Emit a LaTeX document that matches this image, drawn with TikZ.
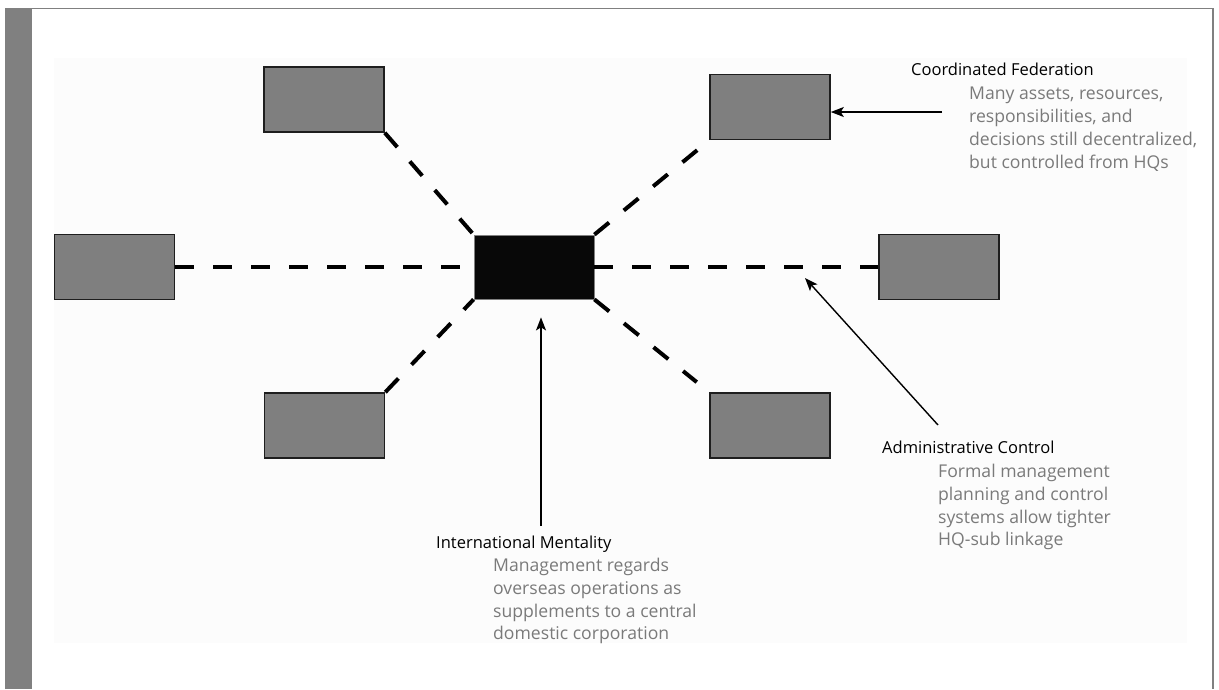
\documentclass[tikz,border=0pt]{standalone}
\usepackage{fontspec}
\setmainfont{Open Sans}
\usetikzlibrary{arrows.meta}
\definecolor{framegray}{HTML}{808080}
\definecolor{panelgray}{HTML}{FCFCFC}
\definecolor{subfill}{HTML}{7F7F7F}
\definecolor{hqfill}{HTML}{080808}
\definecolor{notegray}{HTML}{7A7A7A}
\definecolor{edgeblack}{HTML}{1E1E1E}
\tikzset{
  subbox/.style={draw=edgeblack, line width=1.6pt, fill=subfill,
    minimum width=120pt, minimum height=65pt, inner sep=0pt},
  hqbox/.style={draw=framegray, line width=0.8pt, fill=hqfill,
    minimum width=120pt, minimum height=64pt, inner sep=0pt},
  link/.style={line width=4pt, dash pattern=on 19pt off 19pt},
  pointer/.style={line width=1.4pt, -{Stealth[length=13pt, width=10pt, inset=3pt]}},
  headline/.style={anchor=north west, inner sep=0pt, text=black,
    font=\fontsize{16.5}{22.5}\selectfont},
  notes/.style={anchor=north west, inner sep=0pt, text=notegray, align=left,
    font=\fontsize{17.6}{22.8}\selectfont}
}
\begin{document}
\begin{tikzpicture}[x=1pt, y=-1pt]
  \useasboundingbox (0,0) rectangle (1219,689);
  % page frame and side bar
  \fill[white] (0,0) rectangle (1219,689);
  \fill[framegray] (6,9) rectangle (32,689);
  \draw[framegray, line width=1.8pt] (5.5,689) -- (5.5,8.5) -- (1213,8.5) -- (1213,689);
  % light panel behind the diagram
  \fill[panelgray] (54,58) rectangle (1187,643);

  % headquarters and subsidiaries
  \node[hqbox]  (hq) at (534,267) {};
  \node[subbox] (tl) at (324,99.5) {};
  \node[subbox] (tr) at (770,107) {};
  \node[subbox] (ml) at (114.5,267) {};
  \node[subbox] (mr) at (939,267) {};
  \node[subbox] (bl) at (324.5,425.5) {};
  \node[subbox] (br) at (770,425.5) {};

  % dashed links between headquarters and subsidiaries
  \draw[link] (ml.east) -- (hq.west);
  \draw[link] (hq.east) -- (mr.west);
  \draw[link] (tl.south east) -- (hq.north west);
  \draw[link] (bl.north east) -- (hq.south west);
  \draw[link, shorten >=12pt] (hq.north east) -- (tr.south west);
  \draw[link, shorten >=16pt] (hq.south east) -- (br.north west);

  % Coordinated Federation
  \node[headline] (cf-title) at (911,63) {Coordinated Federation};
  \node[notes] (cf-text) at (969,87) {Many assets, resources,\\responsibilities, and\\decisions still decentralized,\\but controlled from HQs};
  \coordinate (cf-tail) at (942,112);
  \draw[pointer] (cf-tail) -- (cf-tail -| tr.east);

  % Administrative Control
  \node[headline] (ac-title) at (882,441) {Administrative Control};
  \node[notes] (ac-text) at (938,464) {Formal management\\planning and control\\systems allow tighter\\HQ-sub linkage};
  \coordinate (ac-tail) at (938,425);
  \coordinate (ac-tip) at (805,278);
  \draw[pointer] (ac-tail) -- (ac-tip);

  % International Mentality
  \node[headline] (im-title) at (436,536) {International Mentality};
  \node[notes] (im-text) at (493,558) {Management regards\\overseas operations as\\supplements to a central\\domestic corporation};
  \coordinate (im-tail) at (541,526);
  \draw[pointer, shorten >=18pt] (im-tail) -- (im-tail |- hq.south);
\end{tikzpicture}
\end{document}
